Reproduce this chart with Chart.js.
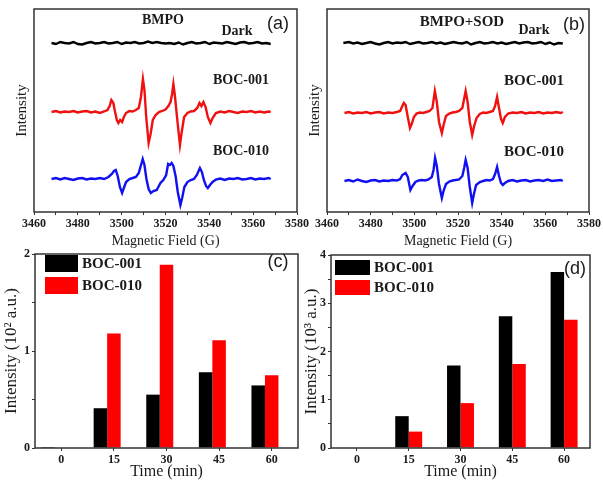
<!DOCTYPE html>
<html>
<head>
<meta charset="utf-8">
<script src="https://cdn.jsdelivr.net/npm/chart.js@4.4.1/dist/chart.umd.min.js"></script>
<style>
  html, body { margin: 0; padding: 0; background: #fff; }
  #wrap { position: relative; width: 603px; height: 481px; overflow: hidden; }
  canvas { position: absolute; }
</style>
</head>
<body>
<div id="wrap">
  <canvas id="panelA" width="312" height="250" style="left:0;top:0"></canvas>
  <canvas id="panelB" width="303" height="250" style="left:300px;top:0"></canvas>
  <canvas id="panelC" width="300" height="241" style="left:0;top:240px"></canvas>
  <canvas id="panelD" width="303" height="241" style="left:300px;top:240px"></canvas>
</div>
<script>
// ---- EPR spectra (field in G, intensity in arbitrary offset units) ----
const darkA = [[3468,169],[3470,168],[3472,170],[3474,169],[3476,168.5],[3478,170],[3480,168],[3482,167.5],[3484,169],[3486,170],[3488,168.5],[3490,169],[3492,170],[3494,168.5],[3496,169],[3498,170],[3500,168],[3502,169.5],[3504,169],[3506,170],[3508,168.5],[3510,169],[3512,170.5],[3514,169],[3516,170],[3518,169],[3520,168.5],[3522,169],[3524,168],[3526,169.5],[3528,167.5],[3530,169],[3532,170],[3534,168.5],[3536,169],[3538,170],[3540,168],[3542,169.5],[3544,169],[3546,168.5],[3548,170],[3550,169],[3552,168],[3554,169.5],[3556,170],[3558,168.5],[3560,169],[3562,170],[3564,168.5],[3566,169],[3568,168]];
const boc001A = [[3468,100],[3470,101],[3472,99.5],[3474,100.5],[3476,100],[3478,101],[3480,99.5],[3482,100.5],[3484,101],[3486,99.5],[3488,100.5],[3490,99],[3492,100.5],[3493.5,102],[3494.5,106],[3495.3,112],[3496.2,109],[3497,100],[3497.8,92],[3498.5,89],[3499.3,92],[3500.2,90],[3501,95],[3502,99],[3503.5,101],[3505,100.5],[3506.5,102],[3507.8,104],[3508.8,115],[3509.7,133],[3510.4,122],[3511.2,95],[3512.3,69],[3513.2,78],[3514.2,92],[3515.5,97],[3517,100],[3518.5,101],[3520,102.5],[3521.3,106],[3522.3,110],[3523,118],[3523.6,128],[3524.3,116],[3525.2,96],[3526.6,67],[3527.4,80],[3528.5,95],[3530,99],[3531.5,100.5],[3533,101],[3534.5,104],[3535.5,109],[3536.4,106],[3537.3,110],[3538.3,105],[3539.3,95],[3540.5,89],[3541.5,94],[3543,99],[3545,100.5],[3547,99.5],[3549,101],[3551,100],[3553,99],[3555,100.5],[3557,100],[3559,101],[3561,99.5],[3563,100.5],[3565,99.5],[3567,100.5],[3568,100]];
const boc010A = [[3468,33],[3470,34],[3472,32.5],[3474,34],[3476,33],[3478,32],[3480,33.5],[3482,34],[3484,32.5],[3486,33.5],[3488,33],[3490,34],[3492,33],[3494,35],[3495.5,38],[3496.5,41],[3497.3,42],[3498.2,36],[3499.2,25],[3500.2,19],[3501,24],[3502,30],[3503.5,33],[3505,34],[3506.5,35],[3507.8,39],[3508.7,46],[3509.6,53],[3510.4,47],[3511.3,33],[3512.3,23],[3513.3,19],[3514.5,21],[3516,22],[3517.7,29],[3519,32],[3520.3,37],[3521.2,48],[3522,47],[3522.8,49],[3523.6,46],[3524.6,36],[3525.6,20],[3526.8,7],[3527.6,14],[3528.6,25],[3530,30],[3531.5,32],[3533,33],[3534.3,37],[3535.7,44],[3536.6,40],[3537.5,32],[3538.5,26],[3539.3,24],[3540.3,27],[3541.5,30],[3543,32.5],[3545,33.5],[3547,32],[3549,33.5],[3551,33],[3553,34],[3555,32.5],[3557,33],[3559,34],[3561,32.5],[3563,33.5],[3565,33],[3567,34],[3568,33]];

const darkB = [[3467.5,169],[3470,170],[3472,168.5],[3474,169.5],[3476,168],[3478,169],[3480,170],[3482,168.5],[3484,167.5],[3486,169],[3488,170],[3490,168.5],[3492,169.5],[3494,169],[3496,170],[3498,168],[3500,169],[3502,170],[3504,168.5],[3506,169],[3508,170],[3510,168.5],[3512,169.5],[3514,168],[3516,169],[3518,170],[3520,169],[3522,168.5],[3524,170],[3526,167.5],[3528,169],[3530,170],[3532,168.5],[3534,169],[3536,170],[3538,168.5],[3540,169.5],[3542,168],[3544,169],[3546,170],[3548,168.5],[3550,169.5],[3552,170],[3554,168.5],[3556,169],[3558,170],[3560,168],[3562,169.5],[3564,167.5],[3566,169],[3568,168.5]];
const boc001B = [[3468,99],[3470,100],[3472,98.5],[3474,99.5],[3476,99],[3478,100],[3480,98.5],[3482,99.5],[3484,100],[3486,98.5],[3488,99.5],[3490,99],[3492,100],[3493.5,101],[3494.5,106],[3495.2,109],[3496,107],[3497,95],[3498,84],[3498.8,88],[3499.8,95],[3501,98.5],[3502.5,99.5],[3504,99],[3505.5,100],[3507,101],[3508.3,104],[3509.4,121],[3510.3,110],[3511.3,90],[3512.6,79],[3513.5,88],[3514.5,96],[3516,98.5],[3517.5,99.5],[3519,100],[3520.5,101],[3522,104],[3523.5,121],[3524.4,110],[3525.4,90],[3526.5,77],[3527.4,86],[3528.5,94],[3530,98],[3531.5,99.5],[3533,99],[3534.5,100],[3536,101],[3537,106],[3537.9,115],[3538.8,104],[3539.7,93],[3540.5,89],[3541.5,95],[3543,98.5],[3545,99.5],[3547,99],[3549,100],[3551,98.5],[3553,99.5],[3555,99],[3557,100],[3559,98.5],[3561,99.5],[3563,99],[3565,100],[3567,99],[3568,100]];
const boc010B = [[3468,31],[3470,32],[3472,30.5],[3474,32.5],[3476,31],[3478,30],[3480,31.5],[3482,32],[3484,30.5],[3486,31.5],[3488,31],[3490,32],[3492,31.5],[3493.5,33],[3494.5,37],[3496,39],[3497,35],[3498.2,22],[3499.2,26],[3500.5,30],[3502,31.5],[3503.5,32],[3505,31.5],[3506.5,32.5],[3508,35],[3508.8,42],[3509.5,54],[3510.3,46],[3511.3,28],[3512.6,14],[3513.5,22],[3514.5,28],[3516,30.5],[3517.5,31.5],[3519,32],[3520.5,32.5],[3522,36],[3522.8,44],[3523.5,52],[3524.4,44],[3525.4,25],[3526.5,9],[3527.3,18],[3528.3,27],[3530,30],[3531.5,31],[3533,32],[3534.5,31.5],[3536,33],[3537,38],[3537.9,45],[3538.8,36],[3539.7,29],[3540.5,27],[3541.5,29],[3543,31],[3545,32],[3547,30.5],[3549,31.5],[3551,32],[3553,30.5],[3555,31.5],[3557,32],[3559,31],[3561,32.5],[3563,31],[3565,31.5],[3567,32],[3568,31]];

// ---- bar panels ----
const times = ['0', '15', '30', '45', '60'];
const dmpoC001 = [0.01, 0.41, 0.55, 0.78, 0.645];   // (c) 10^2 a.u.
const dmpoC010 = [0, 1.18, 1.89, 1.11, 0.75];
const dmpoD001 = [0, 0.66, 1.71, 2.73, 3.65];       // (d) 10^3 a.u.
const dmpoD010 = [0, 0.34, 0.93, 1.74, 2.66];

const SERIF = '"Liberation Serif", "Times New Roman", serif';
const INK = '#1a1a1a';

// box around plot area
const framePlugin = {
    id: 'frame',
    afterDatasetsDraw(chart) {
        const a = chart.chartArea, ctx = chart.ctx;
        ctx.save();
        ctx.strokeStyle = '#333';
        ctx.lineWidth = 1.5;
        ctx.strokeRect(a.left, a.top, a.right - a.left, a.bottom - a.top);
        ctx.restore();
    }
};

// free text labels
const notesPlugin = {
    id: 'notes',
    afterDraw(chart, args, opts) {
        const ctx = chart.ctx;
        (opts.items || []).forEach(n => {
            ctx.save();
            ctx.font = n.font;
            ctx.fillStyle = INK;
            ctx.textAlign = 'center';
            ctx.textBaseline = 'middle';
            ctx.fillText(n.text, n.x, n.y);
            ctx.restore();
        });
    }
};

// legend drawn inside the plot
const boxLegend = {
    id: 'boxLegend',
    afterDraw(chart, args, o) {
        if (!o.x) return;
        const ctx = chart.ctx;
        chart.data.datasets.forEach((ds, i) => {
            if (!ds.label) return;
            const y = o.y + i * o.row;
            ctx.save();
            ctx.fillStyle = ds.backgroundColor;
            ctx.fillRect(o.x, y, o.boxW, o.boxH);
            ctx.fillStyle = INK;
            ctx.font = 'bold 15px ' + SERIF;
            ctx.textBaseline = 'middle';
            ctx.fillText(ds.label, o.x + o.boxW + 4, y + o.boxH / 2 + 1);
            ctx.restore();
        });
    }
};

function toXY(pairs) {
    return pairs.map(p => ({ x: p[0], y: p[1] }));
}

function eprChart(id, dark, s001, s010, yTitlePad, pad, yWidth, notes) {
    const mk = (pairs, color) => ({
        data: toXY(pairs), borderColor: color, borderWidth: 2.4,
        pointRadius: 0, tension: 0, fill: false
    });
    return new Chart(document.getElementById(id), {
        type: 'line',
        data: { datasets: [mk(dark, '#000000'), mk(s001, '#f01010'), mk(s010, '#1010f0')] },
        options: {
            responsive: false,
            animation: false,
            layout: { padding: pad },
            plugins: { legend: { display: false }, tooltip: { enabled: false }, notes: { items: notes } },
            scales: {
                x: {
                    type: 'linear', min: 3460, max: 3580,
                    afterFit(s) { s.height = 38; },
                    border: { display: false },
                    grid: { drawOnChartArea: false, tickLength: 3, color: '#333' },
                    ticks: {
                        stepSize: 10, padding: 2, color: INK, maxRotation: 0, autoSkip: false,
                        font: { family: SERIF, size: 12, weight: 'bold' },
                        callback: v => (v % 20 === 0 ? v : '')
                    },
                    title: { display: true, text: 'Magnetic Field (G)', color: INK,
                             font: { family: SERIF, size: 14 }, padding: { top: 2, bottom: 0 } }
                },
                y: {
                    min: 0, max: 203,
                    afterFit(s) { s.width = yWidth; },
                    border: { display: false },
                    grid: { display: false },
                    ticks: { display: false },
                    title: { display: true, text: 'Intensity', color: INK,
                             font: { family: SERIF, size: 15 }, padding: { top: yTitlePad, bottom: 0 } }
                }
            }
        },
        plugins: [framePlugin, notesPlugin]
    });
}

function barChart(id, vals001, vals010, opts) {
    const sets = [
        { label: 'BOC-001', data: vals001, backgroundColor: '#000000' },
        { label: 'BOC-010', data: vals010, backgroundColor: '#ff0000' }
    ];
    if (opts.spacer) sets.push({ label: '', data: times.map(() => 0), backgroundColor: 'rgba(0,0,0,0)' });
    sets.forEach(s => { s.borderWidth = 0; s.categoryPercentage = opts.catPct; s.barPercentage = 1; });
    return new Chart(document.getElementById(id), {
        type: 'bar',
        data: { labels: times, datasets: sets },
        options: {
            responsive: false,
            animation: false,
            layout: { padding: opts.pad },
            plugins: {
                legend: { display: false }, tooltip: { enabled: false },
                notes: { items: opts.notes },
                boxLegend: opts.legend
            },
            scales: {
                x: {
                    afterFit(s) { s.height = 33; },
                    border: { display: false },
                    grid: { offset: false, drawOnChartArea: false, tickLength: 3, color: '#333' },
                    ticks: { padding: 2, color: INK, font: { family: SERIF, size: 12, weight: 'bold' } },
                    title: { display: true, text: 'Time (min)', color: INK,
                             font: { family: SERIF, size: 16 }, padding: { top: 3, bottom: 0 } }
                },
                y: {
                    min: 0, max: opts.yMax,
                    afterFit(s) { s.width = opts.yWidth; },
                    border: { display: false },
                    grid: { drawOnChartArea: false, tickLength: 3, color: '#333' },
                    ticks: {
                        stepSize: 0.5, padding: 2, color: INK,
                        font: { family: SERIF, size: 12, weight: 'bold' },
                        callback: v => (Number.isInteger(v) ? v : '')
                    },
                    title: { display: true, text: opts.yTitle, color: INK,
                             font: { family: SERIF, size: 17 }, padding: { top: 1, bottom: 0 } }
                }
            }
        },
        plugins: [framePlugin, notesPlugin, boxLegend]
    });
}

const bold14 = 'bold 14px ' + SERIF;
const bold15 = 'bold 15px ' + SERIF;
const tag = '18px "Liberation Sans", Arial, sans-serif';

eprChart('panelA', darkA, boc001A, boc010A, 13, { left: 0, right: 15, top: 9, bottom: 0 }, 34, [
    { text: 'BMPO', x: 163, y: 20, font: bold14 },
    { text: 'Dark', x: 237, y: 31, font: bold14 },
    { text: '(a)', x: 278, y: 24, font: tag },
    { text: 'BOC-001', x: 241, y: 80, font: bold14 },
    { text: 'BOC-010', x: 241, y: 151, font: bold14 }
]);

eprChart('panelB', darkB, boc001B, boc010B, 6, { left: 0, right: 12, top: 9, bottom: 0 }, 27, [
    { text: 'BMPO+SOD', x: 162, y: 22, font: bold15 },
    { text: 'Dark', x: 234, y: 30, font: bold14 },
    { text: '(b)', x: 274, y: 25, font: tag },
    { text: 'BOC-001', x: 234, y: 81, font: bold15 },
    { text: 'BOC-010', x: 234, y: 152, font: bold15 }
]);

barChart('panelC', dmpoC001, dmpoC010, {
    spacer: true, catPct: 0.77, yMax: 2, yWidth: 35,
    yTitle: 'Intensity (10² a.u.)',
    pad: { left: 0, right: 2, top: 14, bottom: 0 },
    legend: { x: 45, y: 15, boxW: 33, boxH: 17, row: 22 },
    notes: [{ text: '(c)', x: 278, y: 22, font: tag }]
});

barChart('panelD', dmpoD001, dmpoD010, {
    spacer: false, catPct: 0.52, yMax: 4, yWidth: 31,
    yTitle: 'Intensity (10³ a.u.)',
    pad: { left: 0, right: 13, top: 15, bottom: 0 },
    legend: { x: 35, y: 20, boxW: 35, boxH: 15, row: 20 },
    notes: [{ text: '(d)', x: 275, y: 29, font: tag }]
});
</script>
</body>
</html>
